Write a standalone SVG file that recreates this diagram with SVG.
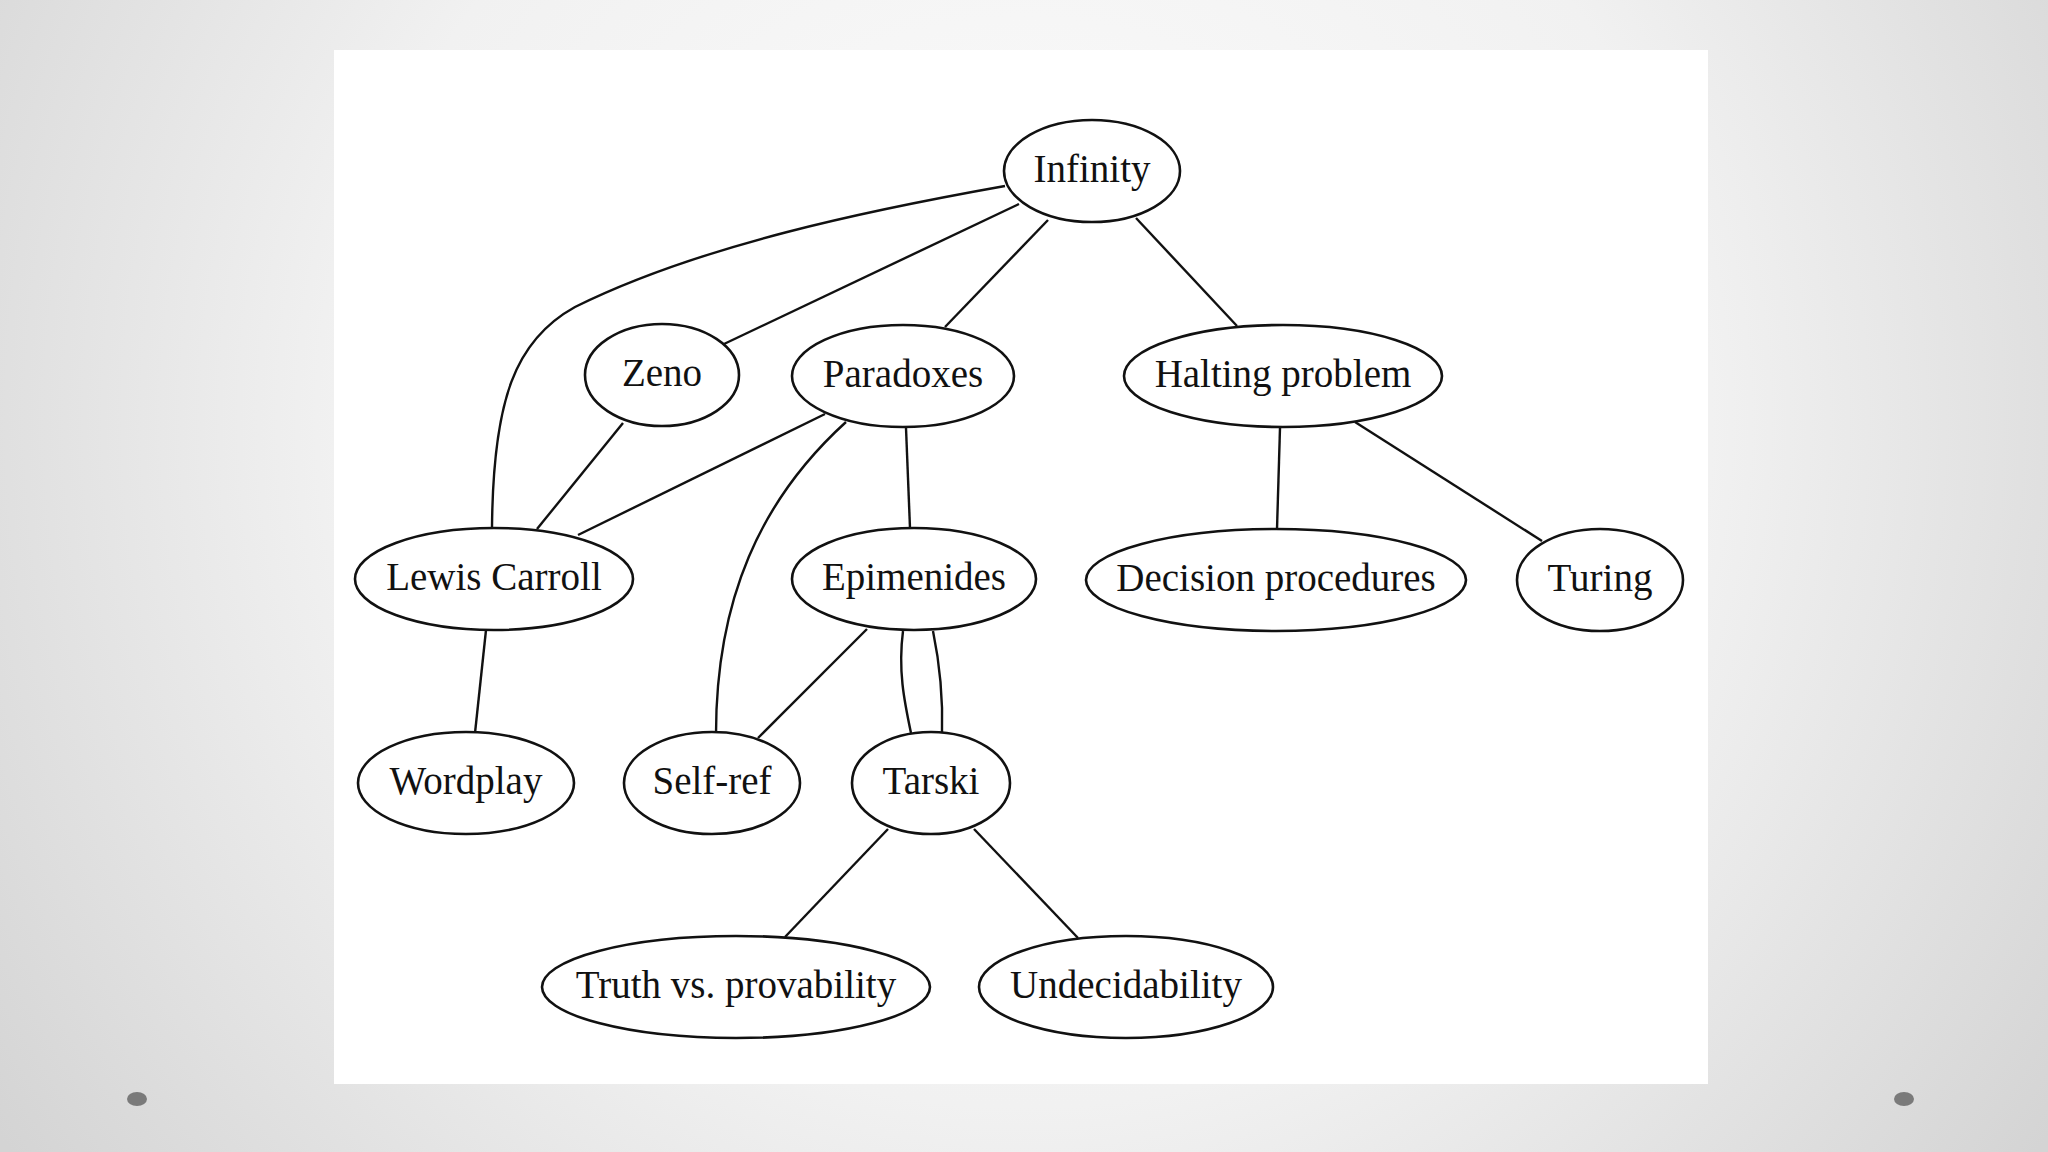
<svg xmlns="http://www.w3.org/2000/svg" width="2048" height="1152" viewBox="0 0 2048 1152">
  <defs>
    <radialGradient id="bg" gradientUnits="userSpaceOnUse" cx="1024" cy="420" r="1250">
      <stop offset="0" stop-color="#fdfdfd"/>
      <stop offset="0.55" stop-color="#f1f1f1"/>
      <stop offset="1" stop-color="#d4d4d4"/>
    </radialGradient>
  </defs>
  <style>
    .node ellipse { fill: #ffffff; stroke: #111111; stroke-width: 2.6; }
    .node text { font-family: "Liberation Serif", "Times New Roman", serif; font-size: 39px; fill: #111111; text-anchor: middle; }
    #edges path, #edges line { fill: none; stroke: #111111; stroke-width: 2.4; }
    .dot { fill: #7a7a7a; }
  </style>
  <rect x="0" y="0" width="2048" height="1152" fill="url(#bg)"/>
  <rect x="334" y="50" width="1374" height="1034" fill="#ffffff"/>
  <ellipse class="dot" cx="137" cy="1099" rx="10" ry="7"/>
  <ellipse class="dot" cx="1904" cy="1099" rx="10" ry="7"/>

  <g id="edges">
    <path d="M1005,186 C870,210 700,245 575,307 C515,340 493,400 492,528"/>
    <line x1="1019" y1="204" x2="724" y2="344"/>
    <line x1="1048" y1="220" x2="945" y2="327"/>
    <line x1="1136" y1="218" x2="1237" y2="326"/>
    <line x1="623" y1="423" x2="537" y2="529"/>
    <line x1="825" y1="414" x2="578" y2="535"/>
    <path d="M846,422 C760,500 716,600 716,734"/>
    <line x1="906" y1="428" x2="910" y2="528"/>
    <line x1="486" y1="630" x2="475" y2="733"/>
    <line x1="867" y1="629" x2="758" y2="738"/>
    <path d="M903,631 C898,670 904,700 911,733"/>
    <path d="M933,631 C940,665 943,700 942,733"/>
    <line x1="888" y1="829" x2="785" y2="937"/>
    <line x1="974" y1="829" x2="1078" y2="938"/>
    <line x1="1280" y1="428" x2="1277" y2="529"/>
    <line x1="1355" y1="422" x2="1542" y2="541"/>
  </g>

  <g id="node-infinity" class="node"><ellipse cx="1092" cy="171" rx="88" ry="51"/><text x="1092" y="182">Infinity</text></g>
  <g id="node-zeno" class="node"><ellipse cx="662" cy="375" rx="77" ry="51"/><text x="662" y="386">Zeno</text></g>
  <g id="node-paradoxes" class="node"><ellipse cx="903" cy="376" rx="111" ry="51"/><text x="903" y="387">Paradoxes</text></g>
  <g id="node-halting" class="node"><ellipse cx="1283" cy="376" rx="159" ry="51"/><text x="1283" y="387">Halting problem</text></g>
  <g id="node-lewis" class="node"><ellipse cx="494" cy="579" rx="139" ry="51"/><text x="494" y="590">Lewis Carroll</text></g>
  <g id="node-epimenides" class="node"><ellipse cx="914" cy="579" rx="122" ry="51"/><text x="914" y="590">Epimenides</text></g>
  <g id="node-decision" class="node"><ellipse cx="1276" cy="580" rx="190" ry="51"/><text x="1276" y="591">Decision procedures</text></g>
  <g id="node-turing" class="node"><ellipse cx="1600" cy="580" rx="83" ry="51"/><text x="1600" y="591">Turing</text></g>
  <g id="node-wordplay" class="node"><ellipse cx="466" cy="783" rx="108" ry="51"/><text x="466" y="794">Wordplay</text></g>
  <g id="node-selfref" class="node"><ellipse cx="712" cy="783" rx="88" ry="51"/><text x="712" y="794">Self-ref</text></g>
  <g id="node-tarski" class="node"><ellipse cx="931" cy="783" rx="79" ry="51"/><text x="931" y="794">Tarski</text></g>
  <g id="node-truth" class="node"><ellipse cx="736" cy="987" rx="194" ry="51"/><text x="736" y="998">Truth vs. provability</text></g>
  <g id="node-undecidability" class="node"><ellipse cx="1126" cy="987" rx="147" ry="51"/><text x="1126" y="998">Undecidability</text></g>
</svg>
